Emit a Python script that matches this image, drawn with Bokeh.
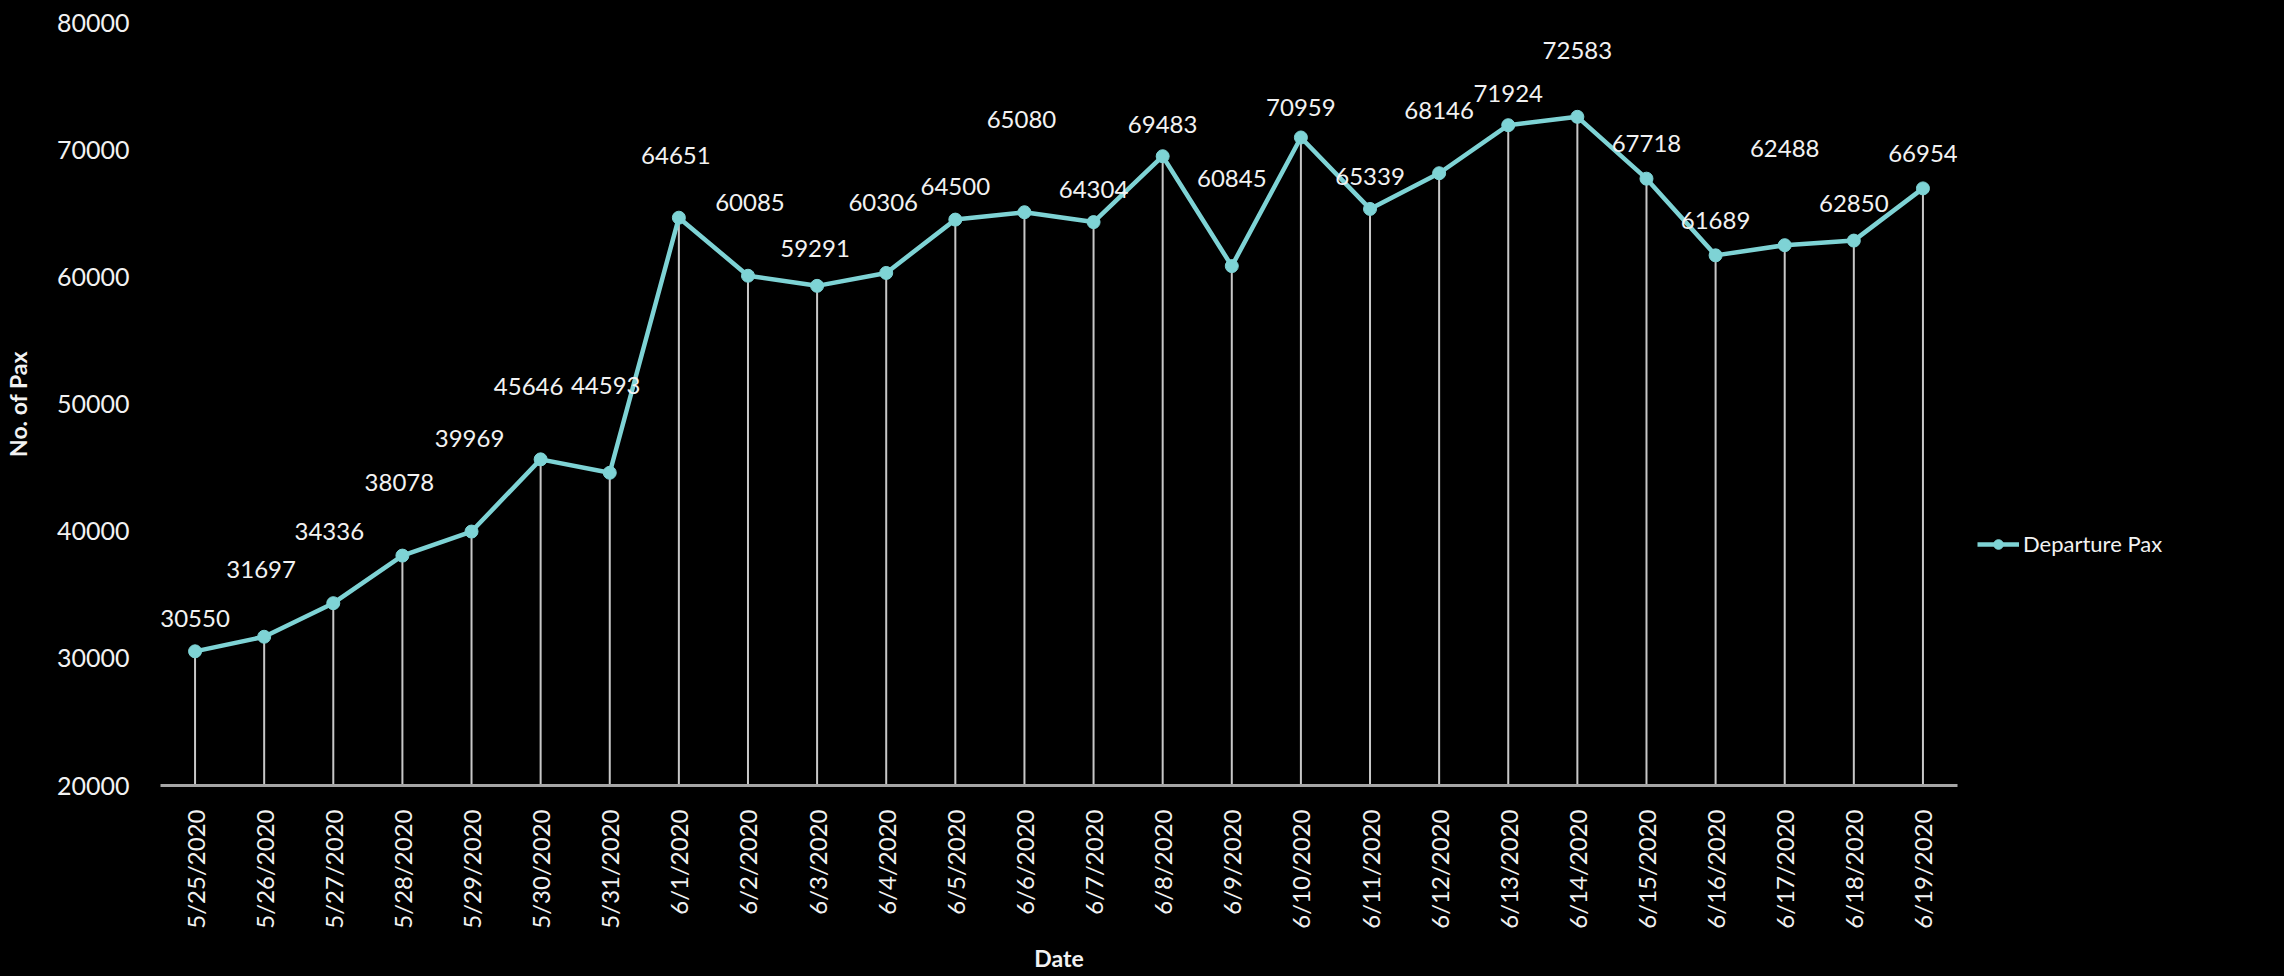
from bokeh.plotting import figure
from bokeh.models import (FactorRange, Range1d, FixedTicker, NumeralTickFormatter,
                          ColumnDataSource, Legend, LegendItem, LabelSet)
from bokeh.embed import file_html
from bokeh.resources import INLINE
from bokeh.core.properties import value
import math

dates = ["5/25/2020", "5/26/2020", "5/27/2020", "5/28/2020", "5/29/2020", "5/30/2020",
         "5/31/2020", "6/1/2020", "6/2/2020", "6/3/2020", "6/4/2020", "6/5/2020",
         "6/6/2020", "6/7/2020", "6/8/2020", "6/9/2020", "6/10/2020", "6/11/2020",
         "6/12/2020", "6/13/2020", "6/14/2020", "6/15/2020", "6/16/2020", "6/17/2020",
         "6/18/2020", "6/19/2020"]
departure_pax = [30550, 31697, 34336, 38078, 39969, 45646, 44593, 64651, 60085, 59291,
                 60306, 64500, 65080, 64304, 69483, 60845, 70959, 65339, 68146, 71924,
                 72583, 67718, 61689, 62488, 62850, 66954]
y_ticks = [20000, 30000, 40000, 50000, 60000, 70000, 80000]

# label placement (pixels above the point / horizontal shift), styling only
label_dy = [33, 67, 72, 73, 93, 73, 87, 62, 73, 37, 70, 33, 93, 33, 32, 88, 30, 32,
            63, 32, 66, 35, 35, 97, 37, 35]
label_dx = [0, -3, -4, -3, -2, -12, -4, -3, 2, -2, -3, 0, -3, 0, 0, 0, 0, 0,
            0, 0, 0, 0, 0, 0, 0, 0]

FONT = "Lato"
TEAL = "#7ED3D5"
WHITE = "#F2F2F2"

src = ColumnDataSource(dict(
    x=dates, y=departure_pax, base=[y_ticks[0]] * len(dates),
    lbl=[str(v) for v in departure_pax],
    dy=label_dy, dx=label_dx,
))

p = figure(frame_width=1797, frame_height=763, output_backend="svg", toolbar_location=None,
           x_range=FactorRange(factors=dates, range_padding=0),
           y_range=Range1d(y_ticks[0], y_ticks[-1]),
           background_fill_color="black", border_fill_color="black",
           outline_line_color=None,
           min_border_left=160, min_border_right=0, min_border_top=22,
           min_border_bottom=191)
p.grid.visible = False

# drop lines
p.segment(x0="x", y0="base", x1="x", y1="y", source=src,
          line_color="#C8C8C8", line_width=2)
ln = p.line("x", "y", source=src, line_color=TEAL, line_width=4.5)
sc = p.scatter("x", "y", source=src, size=13, fill_color=TEAL, line_color=TEAL)

labels = LabelSet(x="x", y="y", text="lbl", source=src, x_offset="dx", y_offset="dy",
                  text_align="center", text_baseline="middle", text_color=WHITE,
                  text_font=value(FONT), text_font_size="24px")
p.add_layout(labels)

# axes
p.yaxis.ticker = FixedTicker(ticks=y_ticks)
p.yaxis.formatter = NumeralTickFormatter(format="0")
p.yaxis.axis_line_color = None
p.yaxis.major_tick_line_color = None
p.yaxis.minor_tick_line_color = None
p.yaxis.major_label_standoff = 25
p.yaxis.axis_label = "No. of Pax"
p.yaxis.axis_label_standoff = 22

p.xaxis.axis_line_color = "#A6A6A6"
p.xaxis.axis_line_width = 3
p.xaxis.major_tick_line_color = None
p.xaxis.minor_tick_line_color = None
p.xaxis.major_label_orientation = math.pi / 2
p.xaxis.major_label_standoff = 18
p.xaxis.axis_label = "Date"
p.xaxis.axis_label_standoff = 12

for ax in (p.xaxis[0], p.yaxis[0]):
    ax.major_label_text_font = FONT
    ax.major_label_text_color = WHITE
    ax.axis_label_text_font = FONT
    ax.axis_label_text_font_size = "23px"
    ax.axis_label_text_font_style = "bold"
    ax.axis_label_text_color = WHITE
p.yaxis.major_label_text_font_size = "25px"
p.xaxis.major_label_text_font_size = "24px"

legend = Legend(items=[LegendItem(label="Departure Pax", renderers=[ln, sc])],
                location=(20, 228), orientation="vertical",
                background_fill_alpha=0, border_line_color=None,
                label_text_font=FONT, label_text_font_size="22px",
                label_text_color=WHITE, glyph_width=42, glyph_height=24,
                label_standoff=4, padding=4, margin=0)
p.add_layout(legend, "right")

html = file_html(p, INLINE)
html = html.replace("</head>", "<style>html,body{background:#000;}</style></head>", 1)
open("out.html", "w").write(html)
